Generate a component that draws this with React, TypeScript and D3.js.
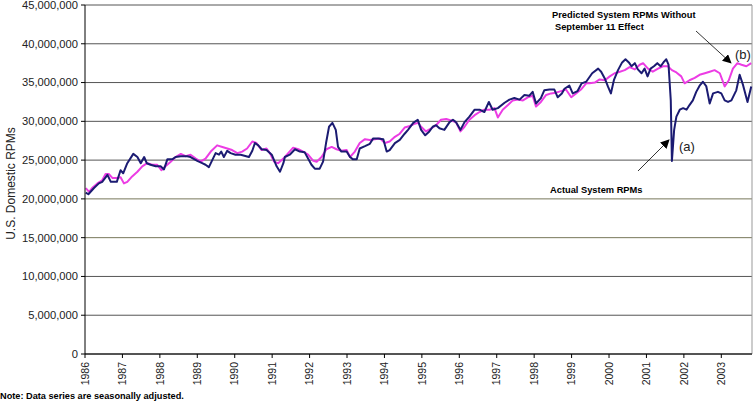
import React from "react";
import * as d3 from "d3";

// [decimal year, RPMs in millions]
const actualSeries: [number, number][] = [
  [1986.02, 20.8], [1986.09, 20.6], [1986.24, 21.4], [1986.37, 22.0], [1986.46, 22.2], [1986.6, 23.1],
  [1986.69, 22.2], [1986.85, 22.2], [1986.95, 23.7], [1987.02, 23.3], [1987.13, 24.6], [1987.29, 25.8],
  [1987.4, 25.4], [1987.49, 24.6], [1987.58, 25.4], [1987.65, 24.6], [1987.75, 24.4], [1987.89, 24.2],
  [1988.02, 24.2], [1988.11, 23.8], [1988.2, 25.1], [1988.33, 25.1], [1988.42, 25.4], [1988.56, 25.5],
  [1988.73, 25.5], [1988.82, 25.4], [1989.0, 24.9], [1989.13, 24.6], [1989.22, 24.4], [1989.31, 24.1],
  [1989.4, 25.0], [1989.49, 25.9], [1989.58, 25.7], [1989.64, 26.1], [1989.71, 25.4], [1989.8, 26.2],
  [1989.89, 25.9], [1990.02, 25.7], [1990.16, 25.7], [1990.38, 25.4], [1990.47, 26.2], [1990.54, 27.2],
  [1990.63, 26.9], [1990.72, 26.4], [1990.85, 26.3], [1990.99, 25.7], [1991.12, 24.2], [1991.21, 23.5],
  [1991.3, 24.6], [1991.34, 25.4], [1991.47, 25.7], [1991.61, 26.4], [1991.74, 26.1], [1991.87, 26.0],
  [1991.96, 25.2], [1992.05, 24.4], [1992.14, 23.9], [1992.27, 23.9], [1992.36, 24.8], [1992.44, 27.2],
  [1992.52, 29.3], [1992.61, 29.8], [1992.7, 28.9], [1992.76, 26.7], [1992.85, 26.1], [1992.99, 26.1],
  [1993.08, 25.4], [1993.16, 25.1], [1993.26, 25.1], [1993.34, 26.5], [1993.48, 26.8], [1993.61, 27.1],
  [1993.7, 27.8], [1993.83, 27.8], [1993.97, 27.7], [1994.06, 26.1], [1994.14, 26.3], [1994.28, 27.2],
  [1994.41, 27.6], [1994.54, 28.4], [1994.63, 28.9], [1994.77, 29.8], [1994.89, 30.2], [1994.98, 28.9],
  [1995.09, 28.2], [1995.2, 28.7], [1995.29, 29.3], [1995.38, 29.5], [1995.47, 29.1], [1995.6, 28.9],
  [1995.74, 29.9], [1995.83, 30.2], [1995.91, 29.9], [1996.03, 28.9], [1996.14, 29.9], [1996.27, 30.6],
  [1996.41, 31.5], [1996.54, 31.5], [1996.67, 31.2], [1996.79, 32.5], [1996.89, 31.5], [1997.03, 31.7],
  [1997.21, 32.4], [1997.34, 32.8], [1997.47, 33.0], [1997.61, 32.8], [1997.74, 33.4], [1997.87, 33.3],
  [1997.96, 33.8], [1998.05, 32.3], [1998.18, 33.0], [1998.27, 34.0], [1998.41, 34.1], [1998.54, 34.1],
  [1998.63, 33.1], [1998.74, 33.6], [1998.81, 34.2], [1998.94, 34.6], [1999.03, 33.6], [1999.16, 33.9],
  [1999.27, 34.9], [1999.39, 35.1], [1999.55, 36.2], [1999.71, 36.8], [1999.79, 36.4], [1999.89, 35.5],
  [1999.97, 34.5], [2000.05, 33.6], [2000.13, 35.3], [2000.24, 36.6], [2000.35, 37.6], [2000.44, 38.0],
  [2000.53, 37.6], [2000.6, 37.1], [2000.69, 37.5], [2000.77, 36.7], [2000.87, 36.2], [2000.95, 36.8],
  [2001.03, 35.8], [2001.11, 36.8], [2001.2, 37.1], [2001.29, 37.5], [2001.38, 37.1], [2001.47, 37.7],
  [2001.53, 38.0], [2001.59, 37.3], [2001.65, 32.7], [2001.68, 24.9], [2001.74, 28.9], [2001.8, 30.6],
  [2001.89, 31.5], [2001.98, 31.7], [2002.07, 31.5], [2002.15, 32.1], [2002.24, 32.7], [2002.33, 33.8],
  [2002.42, 34.6], [2002.51, 35.1], [2002.6, 34.5], [2002.69, 32.3], [2002.78, 33.6], [2002.91, 33.8],
  [2003.0, 33.6], [2003.09, 32.7], [2003.18, 32.5], [2003.27, 32.7], [2003.4, 34.0], [2003.49, 36.0],
  [2003.58, 34.7], [2003.7, 32.5], [2003.8, 34.5],
];

const predictedSeries: [number, number][] = [
  [1986.02, 21.4], [1986.11, 20.9], [1986.19, 21.4], [1986.33, 22.0], [1986.46, 22.4], [1986.55, 23.2],
  [1986.64, 23.2], [1986.73, 22.7], [1986.86, 22.7], [1986.95, 22.8], [1987.04, 22.0], [1987.13, 22.2],
  [1987.26, 22.9], [1987.4, 23.5], [1987.53, 24.2], [1987.66, 24.6], [1987.8, 24.4], [1987.93, 24.4],
  [1988.04, 23.7], [1988.15, 24.2], [1988.29, 24.8], [1988.42, 25.4], [1988.56, 25.8], [1988.69, 25.5],
  [1988.82, 25.7], [1988.96, 25.2], [1989.09, 24.8], [1989.22, 25.2], [1989.36, 26.1], [1989.53, 26.9],
  [1989.67, 26.7], [1989.8, 26.5], [1989.93, 26.3], [1990.07, 25.9], [1990.2, 26.1], [1990.33, 26.5],
  [1990.47, 27.4], [1990.58, 27.2], [1990.72, 26.3], [1990.85, 26.5], [1990.94, 25.9], [1991.05, 24.8],
  [1991.16, 24.6], [1991.3, 25.2], [1991.43, 25.9], [1991.56, 26.6], [1991.7, 26.4], [1991.83, 26.1],
  [1991.96, 25.7], [1992.1, 24.9], [1992.19, 24.8], [1992.32, 25.4], [1992.45, 26.4], [1992.59, 26.7],
  [1992.72, 26.4], [1992.85, 26.2], [1992.99, 26.3], [1993.08, 25.4], [1993.21, 26.1], [1993.34, 27.2],
  [1993.48, 27.7], [1993.61, 27.6], [1993.74, 27.7], [1993.88, 27.8], [1994.01, 27.2], [1994.14, 27.4],
  [1994.28, 28.0], [1994.41, 28.4], [1994.54, 29.2], [1994.68, 29.4], [1994.81, 29.7], [1994.9, 29.8],
  [1994.98, 29.3], [1995.11, 28.7], [1995.25, 29.1], [1995.38, 29.5], [1995.51, 30.2], [1995.65, 30.3],
  [1995.78, 30.1], [1995.91, 29.9], [1996.03, 28.7], [1996.14, 29.3], [1996.27, 30.2], [1996.41, 30.8],
  [1996.54, 31.2], [1996.67, 31.5], [1996.81, 31.5], [1996.94, 31.7], [1997.03, 30.5], [1997.16, 31.5],
  [1997.3, 32.1], [1997.43, 32.7], [1997.56, 32.8], [1997.7, 32.7], [1997.83, 33.1], [1997.96, 33.3],
  [1998.05, 31.9], [1998.18, 32.5], [1998.32, 33.4], [1998.45, 33.6], [1998.58, 33.7], [1998.72, 33.9],
  [1998.85, 34.1], [1998.99, 33.1], [1999.12, 33.6], [1999.25, 34.1], [1999.39, 34.9], [1999.48, 34.9],
  [1999.62, 35.0], [1999.75, 35.4], [1999.89, 35.3], [2000.02, 35.8], [2000.15, 36.2], [2000.29, 36.4],
  [2000.42, 36.6], [2000.55, 37.0], [2000.69, 36.7], [2000.82, 37.3], [2000.91, 37.5], [2001.04, 36.8],
  [2001.17, 36.4], [2001.31, 36.8], [2001.44, 37.1], [2001.57, 37.1], [2001.68, 36.6], [2001.8, 36.3],
  [2001.93, 35.8], [2002.02, 34.9], [2002.15, 35.3], [2002.29, 35.6], [2002.42, 36.0], [2002.56, 36.2],
  [2002.69, 36.4], [2002.82, 36.6], [2002.96, 36.2], [2003.09, 34.5], [2003.2, 35.3], [2003.31, 36.8],
  [2003.43, 37.5], [2003.54, 37.3], [2003.67, 37.1], [2003.8, 37.5],
];

const yTicks = [0, 5, 10, 15, 20, 25, 30, 35, 40, 45]; // millions
const yearTicks = d3.range(1986, 2004);

const W = 753;
const H = 404;
const M = { left: 85, right: 752, top: 5, bottom: 354 };

export default function App() {
  const x = d3.scaleLinear().domain([1986, 2003.82]).range([M.left, M.right]);
  const y = d3.scaleLinear().domain([0, 45]).range([M.bottom, M.top]);
  const line = d3
    .line<[number, number]>()
    .x((d) => x(d[0]))
    .y((d) => y(d[1]));
  const fmt = d3.format(",");
  const font = "Arial, 'Liberation Sans', Helvetica, sans-serif";

  return (
    <svg
      width={W}
      height={H}
      style={{ position: "absolute", left: 0, top: 0, background: "#fff" }}
      fontFamily={font}
    >
      <defs>
        <marker id="arr" viewBox="0 0 10 10" refX="9" refY="5" markerWidth="9" markerHeight="9" orient="auto-start-reverse" markerUnits="userSpaceOnUse">
          <path d="M0,0 L10,5 L0,10 z" fill="#000" />
        </marker>
      </defs>
      {yTicks.map((t) => (
        <line key={t} x1={M.left} x2={M.right} y1={y(t)} y2={y(t)} stroke={t === 15 || t === 20 ? "#77775a" : "#555"} strokeWidth={1} />
      ))}
      <line x1={M.right} x2={M.right} y1={M.top} y2={M.bottom} stroke="#999" />
      <path d={line(predictedSeries) || ""} fill="none" stroke="#ec3ce4" strokeWidth={2} strokeLinejoin="round" />
      <path d={line(actualSeries) || ""} fill="none" stroke="#1b1b72" strokeWidth={2} strokeLinejoin="round" />
      <line x1={M.left} x2={M.left} y1={M.top} y2={M.bottom} stroke="#000" />
      <line x1={M.left} x2={M.right} y1={M.bottom} y2={M.bottom} stroke="#000" />
      {yTicks.map((t) => (
        <g key={"yt" + t}>
          <line x1={M.left - 4} x2={M.left} y1={y(t)} y2={y(t)} stroke="#000" />
          <text x={M.left - 7} y={y(t)} dy="0.35em" textAnchor="end" fontSize={11.2} fill="#222">
            {fmt(t * 1e6)}
          </text>
        </g>
      ))}
      {yearTicks.map((yr) => (
        <g key={"xt" + yr}>
          <line x1={x(yr)} x2={x(yr)} y1={M.bottom} y2={M.bottom + 4} stroke="#000" />
          <text
            transform={`translate(${x(yr)},${M.bottom + 8}) rotate(-90)`}
            textAnchor="end"
            dy="0.35em"
            fontSize={10.5}
            fill="#222"
          >
            {yr}
          </text>
        </g>
      ))}
      <text transform={`translate(15,${(M.top + M.bottom) / 2 + 4}) rotate(-90)`} textAnchor="middle" fontSize={12} fill="#222">
        U.S. Domestic RPMs
      </text>
      <text x={0} y={399} fontSize={9.2} fontWeight="bold" fill="#000">
        Note: Data series are seasonally adjusted.
      </text>
      <text x={552} y={18} fontSize={9.3} fontWeight="bold" fill="#000">Predicted System RPMs Without</text>
      <text x={555} y={30} fontSize={9.3} fontWeight="bold" fill="#000">September 11 Effect</text>
      <line x1={696} y1={31} x2={731} y2={63} stroke="#000" strokeWidth={0.8} markerEnd="url(#arr)" />
      <text x={735} y={59} fontSize={13} fill="#222">(b)</text>
      <text x={550} y={193} fontSize={9.3} fontWeight="bold" fill="#000">Actual System RPMs</text>
      <line x1={638} y1={171} x2={669} y2={140} stroke="#000" strokeWidth={0.8} markerEnd="url(#arr)" />
      <text x={679} y={151} fontSize={13} fill="#222">(a)</text>
    </svg>
  );
}
